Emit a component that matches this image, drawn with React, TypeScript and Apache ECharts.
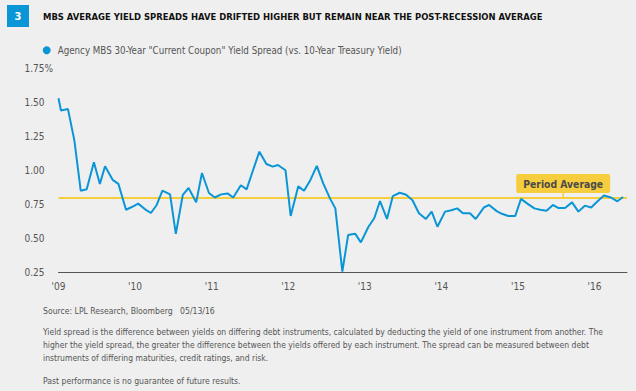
import React, { useEffect, useRef } from "react";
import * as echarts from "echarts";

const FONT = "'Liberation Sans Narrow', 'DejaVu Sans Condensed', 'Roboto Condensed', 'Arial Narrow', sans-serif";

const TITLE = "MBS AVERAGE YIELD SPREADS HAVE DRIFTED HIGHER BUT REMAIN NEAR THE POST-RECESSION AVERAGE";
const SERIES_NAME = 'Agency MBS 30-Year "Current Coupon" Yield Spread (vs. 10-Year Treasury Yield)';
const FOOT_SOURCE = "Source: LPL Research, Bloomberg   05/13/16";
const FOOT_LINES = [
  "Yield spread is the difference between yields on differing debt instruments, calculated by deducting the yield of one instrument from another. The",
  "higher the yield spread, the greater the difference between the yields offered by each instrument. The spread can be measured between debt",
  "instruments of differing maturities, credit ratings, and risk.",
];
const FOOT_PAST = "Past performance is no guarantee of future results.";

// observation dates (YYYY-MM-DD)
const dates = [
  "2009-01-01", "2009-01-13", "2009-02-16", "2009-03-16", "2009-04-16", "2009-05-14", "2009-06-18", "2009-07-16", "2009-08-10", "2009-09-16", "2009-10-13", "2009-11-19", "2009-12-16",
  "2010-01-16", "2010-02-19", "2010-03-16", "2010-04-13", "2010-05-10", "2010-06-16", "2010-07-13", "2010-08-16", "2010-09-13", "2010-10-19", "2010-11-16", "2010-12-19",
  "2011-01-16", "2011-02-16", "2011-03-16", "2011-04-13", "2011-05-19", "2011-06-16", "2011-07-16", "2011-08-16", "2011-09-19", "2011-10-19", "2011-11-13", "2011-12-19",
  "2012-01-13", "2012-02-19", "2012-03-16", "2012-04-16", "2012-05-16", "2012-06-16", "2012-07-19", "2012-08-13", "2012-09-16", "2012-10-13", "2012-11-16", "2012-12-13",
  "2013-01-19", "2013-02-16", "2013-03-13", "2013-04-16", "2013-05-13", "2013-06-16", "2013-07-16", "2013-08-16", "2013-09-16", "2013-10-19", "2013-11-16", "2013-12-13",
  "2014-01-19", "2014-02-19", "2014-03-16", "2014-04-13", "2014-05-16", "2014-06-13", "2014-07-22", "2014-08-16", "2014-09-22", "2014-10-16", "2014-11-16", "2014-12-19",
  "2015-01-16", "2015-02-16", "2015-03-19", "2015-04-16", "2015-05-16", "2015-06-16", "2015-07-10", "2015-08-13", "2015-09-16", "2015-10-16", "2015-11-16", "2015-12-16",
  "2016-01-16", "2016-02-16", "2016-03-19", "2016-04-19", "2016-05-16",
];

// spread, %
const spreads = [
  1.53, 1.44, 1.45, 1.22, 0.85, 0.86, 1.06, 0.90, 1.03, 0.93, 0.90, 0.71, 0.73,
  0.755, 0.713, 0.686, 0.745, 0.85, 0.823, 0.532, 0.82, 0.87, 0.764, 0.98, 0.833,
  0.80, 0.823, 0.83, 0.80, 0.89, 0.86, 1.00, 1.137, 1.046, 1.027, 1.039, 1.00,
  0.664, 0.882, 0.85, 0.929, 1.032, 0.904, 0.79, 0.72, 0.255, 0.524, 0.534, 0.47,
  0.585, 0.647, 0.774, 0.642, 0.81, 0.835, 0.82, 0.78, 0.684, 0.642, 0.696, 0.585,
  0.696, 0.706, 0.72, 0.684, 0.684, 0.642, 0.727, 0.745, 0.70, 0.68, 0.664, 0.664,
  0.79, 0.755, 0.72, 0.71, 0.703, 0.745, 0.723, 0.723, 0.764, 0.696, 0.74, 0.727,
  0.772, 0.815, 0.80, 0.772, 0.804,
];

const PERIOD_AVERAGE = 0.797;
const AVERAGE_LABEL = "Period Average";
const AVERAGE_LABEL_DATE = "2015-08-04";

const yTicks = [0.25, 0.5, 0.75, 1.0, 1.25, 1.5, 1.75];
const START_YEAR = 2009;
const AXIS_END_DATE = "2016-06-04";

const BLUE = "#0a95d6";
const YELLOW = "#f6cd3c";

function monthPos(d: string): number {
  const [y, m, day] = d.split("-").map(Number);
  return (y - START_YEAR) * 12 + (m - 1) + (day - 1) / 31;
}

export default function App() {
  const ref = useRef<HTMLDivElement>(null);
  useEffect(() => {
    if (!ref.current) return;
    const chart = echarts.init(ref.current, undefined, { renderer: "svg" });
    const data = dates.map((d, i) => [monthPos(d), spreads[i]]);
    const footGraphics: any[] = FOOT_LINES.map((t, i) => ({
      type: "text",
      style: { text: t, x: 43, y: 332 + i * 13, fill: "#555", fontSize: 8.5, fontFamily: FONT, verticalAlign: "middle" },
    }));
    chart.setOption({
      animation: false,
      backgroundColor: "#efefef",
      textStyle: { fontFamily: FONT },
      grid: { left: 58.5, right: 9, top: 68.3, bottom: 118.7, containLabel: false },
      legend: {
        show: true,
        left: 42.7,
        top: 45.3,
        padding: 0,
        icon: "circle",
        itemWidth: 8,
        itemHeight: 8,
        itemGap: 10,
        textStyle: { color: "#555", fontSize: 9.7, fontFamily: FONT, padding: [0, 0, 0, 2] },
        data: [SERIES_NAME],
      },
      xAxis: {
        type: "value",
        min: 0,
        max: monthPos(AXIS_END_DATE),
        interval: 12,
        splitLine: { show: false },
        axisTick: { show: false },
        axisLine: { show: true, lineStyle: { color: "#555", width: 1 } },
        axisLabel: {
          color: "#555",
          fontSize: 10,
          fontFamily: FONT,
          margin: 9,
          showMaxLabel: false,
          formatter: (v: number) => {
            if (Math.abs(v % 12) > 1e-6) return "";
            const yy = (START_YEAR + v / 12) % 100;
            return "'" + String(yy).padStart(2, "0");
          },
        },
      },
      yAxis: {
        type: "value",
        min: yTicks[0],
        max: yTicks[yTicks.length - 1],
        interval: 0.25,
        splitLine: { show: false },
        axisTick: { show: false },
        axisLine: { show: false },
        axisLabel: {
          color: "#555",
          fontSize: 10,
          fontFamily: FONT,
          align: "left",
          margin: 34,
          formatter: (v: number) => (Math.abs(v - yTicks[yTicks.length - 1]) < 1e-6 ? v.toFixed(2) + "%" : v.toFixed(2)),
        },
      },
      series: [
        {
          name: SERIES_NAME,
          type: "line",
          data,
          showSymbol: false,
          symbol: "circle",
          itemStyle: { color: BLUE },
          lineStyle: { color: BLUE, width: 2 },
          z: 3,
          markLine: {
            silent: true,
            symbol: ["none", "none"],
            label: { show: false },
            lineStyle: { color: YELLOW, width: 2, type: "solid" },
            data: [{ yAxis: PERIOD_AVERAGE }],
            z: 2,
          },
          markPoint: {
            silent: true,
            data: [
              {
                coord: [monthPos(AVERAGE_LABEL_DATE), PERIOD_AVERAGE],
                symbol: "rect",
                symbolSize: [1.5, 5],
                symbolOffset: [0, -2.5],
                itemStyle: { color: YELLOW },
                label: {
                  show: true,
                  position: "top",
                  distance: 0,
                  formatter: AVERAGE_LABEL,
                  backgroundColor: YELLOW,
                  borderRadius: 2,
                  padding: [5, 7, 4, 7],
                  color: "#4a4a4a",
                  fontWeight: "bold",
                  fontSize: 10.3,
                  fontFamily: FONT,
                },
              },
            ],
          },
        },
      ],
      graphic: [
        { type: "rect", shape: { x: 7, y: 5, width: 22, height: 22 }, style: { fill: BLUE } },
        {
          type: "text",
          style: { text: "3", x: 18, y: 16.5, fill: "#fff", fontSize: 11, fontWeight: "bold", fontFamily: FONT, align: "center", verticalAlign: "middle" },
        },
        {
          type: "text",
          style: { text: TITLE, x: 43, y: 16.5, fill: "#111", fontSize: 9.4, fontWeight: "bold", fontFamily: FONT, verticalAlign: "middle" },
        },
        {
          type: "text",
          style: { text: FOOT_SOURCE, x: 43, y: 310.5, fill: "#555", fontSize: 8.6, fontFamily: FONT, verticalAlign: "middle" },
        },
        ...footGraphics,
        {
          type: "text",
          style: { text: FOOT_PAST, x: 43, y: 381, fill: "#555", fontSize: 8.6, fontFamily: FONT, verticalAlign: "middle" },
        },
      ],
    });
    return () => chart.dispose();
  }, []);
  return <div ref={ref} style={{ position: "fixed", left: 0, top: 0, width: 636, height: 391 }} />;
}
